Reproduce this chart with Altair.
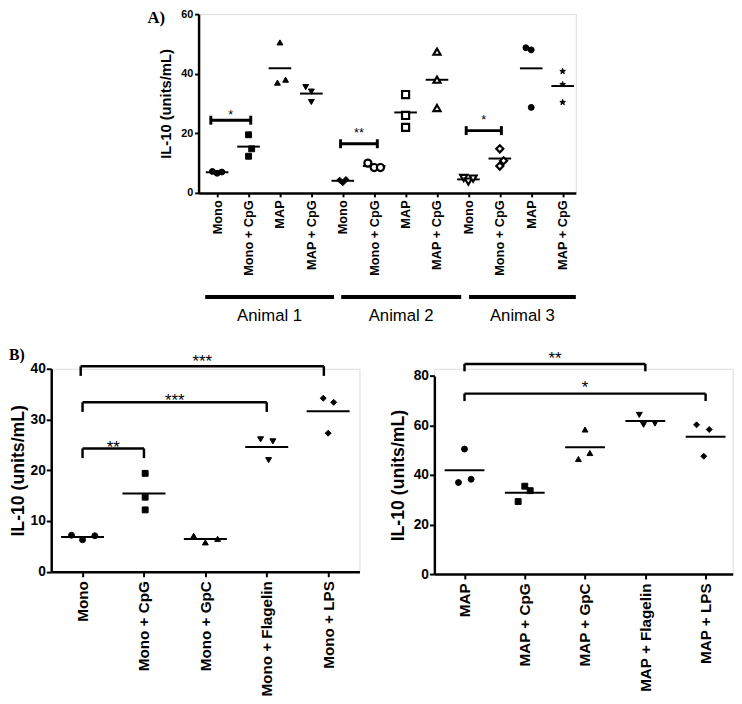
import json
import altair as alt
import pandas as pd

FONT = "Liberation Sans"
SERIF = "Liberation Serif"
STAR = ("M0,-1L0.2245,-0.309L0.9511,-0.309L0.3633,0.118L0.5878,0.809L0,0.382"
        "L-0.5878,0.809L-0.3633,0.118L-0.9511,-0.309L-0.2245,-0.309Z")

# ---------------- Panel A data ----------------
a_conditions = ["Mono", "Mono + CpG", "MAP", "MAP + CpG"]
a_animals = ["Animal 1", "Animal 2", "Animal 3"]
a_rep1 = [7.2, 19.5, 50.5, 35.5, 4.3, 10.0, 33.0, 47.4, 5.0, 14.8, 48.7, 40.8]
a_rep2 = [6.6, 14.8, 37.0, 34.0, 3.4, 8.5, 26.0, 38.0, 3.8, 10.8, 48.0, 36.4]
a_rep3 = [7.0, 12.3, 38.0, 30.5, 4.5, 8.5, 22.0, 28.5, 4.8, 9.0, 28.7, 30.4]
a_jit1 = [-0.15, 0.0, 0.0, -0.18, -0.10, -0.20, 0.0, 0.0, -0.15, 0.0, -0.17, 0.0]
a_jit2 = [0.0, 0.10, -0.08, 0.0, 0.0, 0.0, 0.0, 0.0, 0.0, 0.12, 0.0, 0.0]
a_jit3 = [0.15, 0.0, 0.18, 0.0, 0.10, 0.20, 0.0, 0.0, 0.15, 0.0, 0.0, 0.0]
a_symbols = ["circle", "square", "triangle-up", "triangle-down",
             "diamond", "circle", "square", "triangle-up",
             "triangle-down", "diamond", "circle", STAR]
a_fills = ["filled", "filled", "filled", "filled",
           "filled", "open", "open", "open",
           "open", "open", "filled", "filled"]
a_sig_from = [-0.20, 3.93, 7.93]
a_sig_to = [1.07, 5.10, 9.05]
a_sig_y = [24.4, 16.5, 20.9]
a_sig_text_y = [24.8, 18.6, 23.1]
a_sig_text = ["*", "**", "*"]
a_group_from = [-0.38, 3.95, 8.02]
a_group_to = [3.72, 7.77, 11.42]

# ---------------- Panel B (left) data ----------------
bl_names = ["Mono", "Mono + CpG", "Mono + GpC", "Mono + Flagelin", "Mono + LPS"]
bl_rep1 = [7.2, 19.4, 7.1, 26.1, 34.2]
bl_rep2 = [6.3, 14.7, 5.8, 25.7, 33.4]
bl_rep3 = [7.1, 12.2, 6.5, 22.0, 27.3]
bl_jit1 = [-0.18, 0.02, -0.19, -0.10, -0.08]
bl_jit2 = [0.0, 0.02, 0.0, 0.10, 0.09]
bl_jit3 = [0.20, 0.02, 0.20, 0.03, 0.0]
bl_sig_from = [-0.03, 0.0, 0.0]
bl_sig_to = [3.93, 3.0, 1.0]
bl_sig_y = [40.5, 33.4, 24.3]
bl_sig_text_y = [40.35, 32.7, 23.4]
bl_sig_text = ["***", "***", "**"]

# ---------------- Panel B (right) data ----------------
br_names = ["MAP", "MAP + CpG", "MAP + GpC", "MAP + Flagelin", "MAP + LPS"]
br_rep1 = [50.5, 35.5, 58.4, 64.3, 60.3]
br_rep2 = [37.0, 33.7, 46.5, 60.3, 58.4]
br_rep3 = [38.3, 29.3, 48.9, 60.8, 47.6]
br_jit1 = [0.0, 0.0, 0.0, -0.10, -0.15]
br_jit2 = [-0.10, 0.09, -0.11, -0.03, 0.06]
br_jit3 = [0.11, -0.11, 0.08, 0.16, -0.03]
br_sig_from = [0.0, 0.0]
br_sig_to = [3.0, 4.0]
br_sig_y = [84.9, 72.9]
br_sig_text_y = [85.0, 73.1]
br_sig_text = ["**", "*"]
b_symbols = ["circle", "square", "triangle-up", "triangle-down", "diamond"]


def axis(**kw):
    base = dict(domainColor="black", domainWidth=2.5, tickColor="black", tickWidth=2,
                labelFont=FONT, labelFontWeight="bold", labelColor="black",
                titleFont=FONT, titleFontWeight="bold", titleColor="black",
                grid=False, labelOverlap=False, labelFlush=False)
    base.update(kw)
    return alt.Axis(**base)


def points_frame(reps, jits, n, fills):
    rows = []
    for i in range(n):
        for r in range(len(reps)):
            rows.append({"idx": i, "x": i + jits[r][i], "y": reps[r][i],
                         "sym": f"s{i}", "fill": fills[i]})
    return pd.DataFrame(rows)


def scatter_layers(df, X, Y, symbols, size_range, sw_range, half):
    n = len(symbols)
    pts = alt.Chart(df).mark_point(opacity=1, stroke="black").encode(
        x=X, y=Y,
        shape=alt.Shape("sym:N", scale=alt.Scale(domain=[f"s{i}" for i in range(n)],
                                                 range=symbols), legend=None),
        fill=alt.Fill("fill:N", scale=alt.Scale(domain=["filled", "open"],
                                                range=["black", "white"]), legend=None),
        size=alt.Size("fill:O", scale=alt.Scale(domain=["filled", "open"],
                                                range=size_range), legend=None),
        strokeWidth=alt.StrokeWidth("fill:O", scale=alt.Scale(domain=["filled", "open"],
                                                              range=sw_range), legend=None),
    )
    means = alt.Chart(df).transform_aggregate(
        y="mean(y)", groupby=["idx"]
    ).transform_calculate(
        x=f"datum.idx - {half}", x2=f"datum.idx + {half}"
    ).mark_rule(color="black", strokeWidth=2).encode(x=X, x2="x2:Q", y=Y)
    return [means, pts]


def brackets(froms, tos, ys, cap_lo, cap_hi, X, Y, width):
    bar = pd.DataFrame({"x": froms, "x2": tos, "y": ys})
    caps = pd.DataFrame(
        [{"x": f, "y": y + cap_lo, "y2": y + cap_hi} for f, y in zip(froms, ys)] +
        [{"x": t, "y": y + cap_lo, "y2": y + cap_hi} for t, y in zip(tos, ys)])
    h = alt.Chart(bar).mark_rule(color="black", strokeWidth=width).encode(x=X, x2="x2:Q", y=Y)
    v = alt.Chart(caps).mark_rule(color="black", strokeWidth=width).encode(x=X, y=Y, y2="y2:Q")
    return [h, v]


def sig_text(froms, tos, ys, texts, X, Y, size):
    df = pd.DataFrame({"x": [(f + t) / 2 for f, t in zip(froms, tos)], "y": ys, "t": texts})
    return alt.Chart(df).mark_text(font=FONT, fontSize=size, color="black",
                                   baseline="alphabetic", align="center").encode(
        x=X, y=Y, text="t:N")


# ================= Panel A =================
XA = alt.X("x:Q", scale=alt.Scale(domain=[-0.59, 11.42], nice=False, zero=False),
           axis=axis(values=list(range(12)),
                     labelExpr=f"{json.dumps(a_conditions)}[datum.value % 4]",
                     labelAngle=270, labelFontSize=13, tickSize=4, labelPadding=3,
                     title=None))
YA = alt.Y("y:Q", scale=alt.Scale(domain=[0, 60], nice=False),
           axis=axis(values=[0, 20, 40, 60], labelFontSize=11, tickSize=4,
                     labelPadding=2, title="IL-10 (units/mL)", titleFontSize=15,
                     titlePadding=7))

dfA = points_frame([a_rep1, a_rep2, a_rep3], [a_jit1, a_jit2, a_jit3], 12, a_fills)
layersA = scatter_layers(dfA, XA, YA, a_symbols, [36, 52], [1, 2.2], 0.36)
layersA += brackets(a_sig_from, a_sig_to, a_sig_y, -1.5, 1.5, XA, YA, 3)
layersA.append(sig_text(a_sig_from, a_sig_to, a_sig_text_y, a_sig_text, XA, YA, 13))

grp = pd.DataFrame({"x": a_group_from, "x2": a_group_to, "y": [-34.9] * 3})
layersA.append(alt.Chart(grp).mark_rule(color="black", strokeWidth=4).encode(
    x=XA, x2="x2:Q", y=YA))
grp_lab = pd.DataFrame({"x": [(f + t) / 2 for f, t in zip(a_group_from, a_group_to)],
                        "y": [-41.5] * 3, "t": a_animals})
layersA.append(alt.Chart(grp_lab).mark_text(font=FONT, fontSize=17, color="black",
                                            baseline="middle").encode(x=XA, y=YA, text="t:N"))
layersA.append(alt.Chart(pd.DataFrame({"x": [-1.94], "y": [58.8], "t": ["A)"]})).mark_text(
    font=SERIF, fontSize=17, fontWeight="bold", color="black", baseline="middle").encode(
    x=XA, y=YA, text="t:N"))

panelA = alt.layer(*layersA).properties(width=384, height=182)

spacer = alt.Chart(pd.DataFrame({"v": [0]})).mark_text(text="", opacity=0).encode(
    x=alt.value(0), y=alt.value(0)).properties(
    width=97, height=1, view=alt.ViewBackground(stroke=None, strokeOpacity=0, fillOpacity=0))

# ================= Panel B left =================
XBL = alt.X("x:Q", scale=alt.Scale(domain=[-0.51, 4.51], nice=False, zero=False),
            axis=axis(values=list(range(5)),
                      labelExpr=f"{json.dumps(bl_names)}[datum.value]",
                      labelAngle=270, labelFontSize=15.5, tickSize=5, labelPadding=4,
                      title=None))
YBL = alt.Y("y:Q", scale=alt.Scale(domain=[0, 40], nice=False),
            axis=axis(values=[0, 10, 20, 30, 40], labelFontSize=14, tickSize=5,
                      labelPadding=1, title="IL-10 (units/mL)", titleFontSize=18,
                      titlePadding=3))
dfBL = points_frame([bl_rep1, bl_rep2, bl_rep3], [bl_jit1, bl_jit2, bl_jit3], 5, ["filled"] * 5)
layersBL = scatter_layers(dfBL, XBL, YBL, b_symbols, [66, 66], [1, 1], 0.35)
layersBL += brackets(bl_sig_from, bl_sig_to, bl_sig_y, -1.9, 0, XBL, YBL, 2.5)
layersBL.append(sig_text(bl_sig_from, bl_sig_to, bl_sig_text_y, bl_sig_text, XBL, YBL, 17))
layersBL.append(alt.Chart(pd.DataFrame({"x": [-1.07], "y": [42.6], "t": ["B)"]})).mark_text(
    font=SERIF, fontSize=16, fontWeight="bold", color="black", baseline="middle").encode(
    x=XBL, y=YBL, text="t:N"))
panelBL = alt.layer(*layersBL).properties(width=313.75, height=206.7)

# ================= Panel B right =================
# plot area starts level with the left panel's top; the axis itself spans 0..80 only
XBR = alt.X("x:Q", scale=alt.Scale(domain=[-0.5, 4.45], nice=False, zero=False),
            axis=axis(values=list(range(5)),
                      labelExpr=f"{json.dumps(br_names)}[datum.value]",
                      labelAngle=270, labelFontSize=15.5, tickSize=5, labelPadding=4,
                      title=None))
YBR = alt.Y("y:Q", scale=alt.Scale(domain=[0, 80], nice=False, range=[209, 7.4]),
            axis=axis(values=[0, 20, 40, 60, 80], labelFontSize=14, tickSize=5,
                      labelPadding=1, title="IL-10 (units/mL)", titleFontSize=18,
                      titlePadding=6))
dfBR = points_frame([br_rep1, br_rep2, br_rep3], [br_jit1, br_jit2, br_jit3], 5, ["filled"] * 5)
layersBR = scatter_layers(dfBR, XBR, YBR, b_symbols, [66, 66], [1, 1], 0.33)
layersBR += brackets(br_sig_from, br_sig_to, br_sig_y, -3.0, 0, XBR, YBR, 2.5)
layersBR.append(sig_text(br_sig_from, br_sig_to, br_sig_text_y, br_sig_text, XBR, YBR, 17))
panelBR = alt.layer(*layersBR).properties(width=303.7, height=209)

rowA = alt.hconcat(spacer, panelA, spacing=0)
rowB = alt.hconcat(panelBL, panelBR, spacing=28)

PAD = {"left": 0, "top": -7, "right": 0, "bottom": 0}
chart = alt.vconcat(rowA, rowB, spacing=22).properties(padding=PAD).configure_view(
    stroke=None, strokeOpacity=0).configure(background="white")

chart.save("out.html", embed_options={"renderer": "svg", "actions": False})
